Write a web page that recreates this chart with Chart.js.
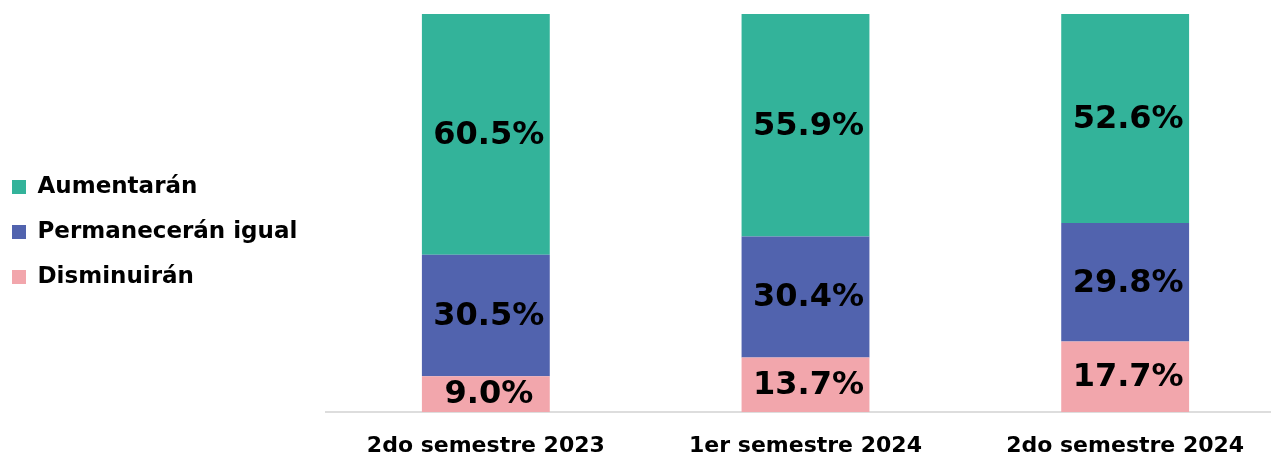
<!DOCTYPE html>
<html>
<head>
<meta charset="utf-8">
<script src="https://cdn.jsdelivr.net/npm/chart.js@4"></script>
<style>
  html, body { margin: 0; padding: 0; background: #fff; overflow: hidden; }
  #wrap { width: 1285px; height: 454px; }
</style>
</head>
<body>
<div id="wrap"><canvas id="chart"></canvas></div>
<script>
const categories = ['2do semestre 2023', '1er semestre 2024', '2do semestre 2024']
const disminuiran = [9.0, 13.7, 17.7]
const permaneceran = [30.5, 30.4, 29.8]
const aumentaran = [60.5, 55.9, 52.6]

const FONT = '"DejaVu Sans", sans-serif'

// labels centred inside each bar segment
const segmentLabels = {
  id: 'segmentLabels',
  afterDatasetsDraw(chart) {
    const ctx = chart.ctx
    ctx.save()
    ctx.font = 'bold 32px ' + FONT
    ctx.fillStyle = '#000'
    ctx.textAlign = 'center'
    ctx.textBaseline = 'middle'
    chart.data.datasets.forEach((ds, i) => {
      chart.getDatasetMeta(i).data.forEach((bar, j) => {
        const mid = (bar.y + bar.base) / 2
        ctx.fillText(ds.data[j].toFixed(1) + '%', bar.x + 3, mid + 1)
      })
    })
    ctx.restore()
  }
}

// fixed legend column width so the plot starts where the original does
const legendWidth = {
  id: 'legendWidth',
  beforeInit(chart) {
    const fit = chart.legend.fit
    chart.legend.fit = function () {
      fit.call(this)
      this.width = 326
    }
  },
  afterLayout(chart) {
    chart.legend.left -= 10
    chart.legend.top -= 2
    chart.legend.bottom -= 2
  }
}

new Chart(document.getElementById('chart'), {
  type: 'bar',
  data: {
    labels: categories,
    datasets: [
      { label: 'Disminuirán', data: disminuiran, backgroundColor: '#F2A6AC' },
      { label: 'Permanecerán igual', data: permaneceran, backgroundColor: '#5163AE' },
      { label: 'Aumentarán', data: aumentaran, backgroundColor: '#33B39A' }
    ]
  },
  options: {
    responsive: true,
    maintainAspectRatio: false,
    animation: false,
    layout: { padding: { top: 14, left: 0, right: 0, bottom: 0 } },
    datasets: { bar: { categoryPercentage: 1, barPercentage: 0.4 } },
    scales: {
      x: {
        stacked: true,
        grid: { display: false, drawTicks: false },
        border: { color: '#DDDDDD', width: 2 },
        ticks: { color: '#000', font: { family: FONT, size: 22, weight: 'bold' }, padding: 21 },
        afterFit(scale) { scale.height = 42 }
      },
      y: { stacked: true, display: false, min: 0, max: 100 }
    },
    plugins: {
      tooltip: { enabled: false },
      legend: {
        position: 'left',
        reverse: true,
        labels: {
          color: '#000',
          boxWidth: 14,
          boxHeight: 14,
          padding: 22,
          font: { family: FONT, size: 23, weight: 'bold' }
        }
      }
    }
  },
  plugins: [segmentLabels, legendWidth]
})
</script>
</body>
</html>
